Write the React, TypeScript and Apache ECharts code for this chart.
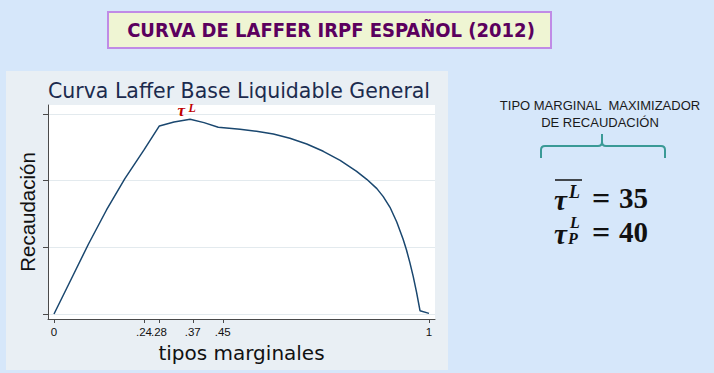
import React, { useEffect, useRef } from "react";
import * as echarts from "echarts";

// Marginal tax rate (x) and revenue index (y)
const rateX = [0, 0.05, 0.092, 0.14, 0.189, 0.24, 0.281, 0.32, 0.363, 0.4, 0.438, 0.496, 0.54, 0.585, 0.629, 0.674, 0.718, 0.763, 0.807, 0.834, 0.861, 0.878, 0.896, 0.914, 0.931, 0.94, 0.949, 0.958, 0.967, 0.976, 1.0];
const revenue = [0, 0.57, 1.05, 1.56, 2.03, 2.46, 2.82, 2.88, 2.92, 2.87, 2.8, 2.77, 2.74, 2.7, 2.635, 2.55, 2.44, 2.305, 2.14, 2.02, 1.88, 1.76, 1.6, 1.38, 1.12, 0.96, 0.77, 0.56, 0.32, 0.05, 0.01];

const xTicks = [0, 0.24, 0.28, 0.37, 0.45, 1];
const xTickLabels = ["0", ".24", ".28", ".37", ".45", "1"];
const yTicks = [0, 1, 2, 3];
const peakLabelAt = [0.35, 2.92];

const bracePath =
  "M541 158 L541 150 Q541 146 545 146 L598 146 Q602 146 602 142 L602 134 M602 142 Q602 146 606 146 L661 146 Q665 146 665 150 L665 158";

const txt = (x: number, y: number, text: string, font: string, align = "left", fill = "#111") => ({
  type: "text",
  x,
  y,
  style: { text, font, fill, textAlign: align, textVerticalAlign: "middle", align, verticalAlign: "middle" },
});

export default function App() {
  const ref = useRef<HTMLDivElement>(null);
  useEffect(() => {
    if (!ref.current) return;
    try {
      echarts.graphic.registerShape("brace", echarts.graphic.extendPath(bracePath, {}));
    } catch (e) {}
    const chart = echarts.init(ref.current, undefined, { renderer: "svg" });
    const axisColor = "#4a4a4a";
    const tauFont = 'italic bold 29px "Liberation Serif"';
    const numFont = 'bold 29px "Liberation Serif"';
    const red = "#c00000";
    chart.setOption({
      animation: false,
      backgroundColor: "#d6e7fa",
      title: {
        text: "Curva Laffer Base Liquidable General",
        left: 48,
        top: 80,
        padding: 0,
        textStyle: { fontFamily: "DejaVu Sans", fontSize: 20.5, fontWeight: "normal", color: "#1c2b4e" },
      },
      grid: { left: 48, right: 279, top: 105, bottom: 54, show: true, backgroundColor: "#ffffff", borderWidth: 0 },
      xAxis: {
        type: "value",
        min: -0.016,
        max: 1.016,
        axisLine: { onZero: false, lineStyle: { color: axisColor, width: 1 } },
        axisTick: { show: true, customValues: xTicks, length: 4, lineStyle: { color: axisColor } },
        axisLabel: {
          customValues: xTicks,
          margin: 7,
          fontFamily: "Liberation Sans",
          fontSize: 11.5,
          color: "#111",
          formatter: (v: number) => {
            let best = 0;
            xTicks.forEach((t, i) => {
              if (Math.abs(t - v) < Math.abs(xTicks[best] - v)) best = i;
            });
            return xTickLabels[best];
          },
        },
        splitLine: { show: false },
        name: "tipos marginales",
        nameLocation: "middle",
        nameGap: 14,
        nameTextStyle: { fontFamily: "DejaVu Sans", fontSize: 20, color: "#111" },
      },
      yAxis: {
        type: "value",
        min: -0.0746,
        max: 3.134,
        axisLine: { show: true, onZero: false, lineStyle: { color: axisColor, width: 1 } },
        axisTick: { show: true, customValues: yTicks, length: 5, lineStyle: { color: axisColor } },
        axisLabel: { show: false, customValues: yTicks },
        splitLine: { show: true, lineStyle: { color: "#e3eaee", width: 1 } },
        name: "Recaudación",
        nameLocation: "middle",
        nameGap: 10,
        nameTextStyle: { fontFamily: "Liberation Sans", fontSize: 20.5, color: "#111" },
      },
      series: [
        {
          type: "line",
          data: rateX.map((x, i) => [x, revenue[i]]),
          symbol: "none",
          lineStyle: { color: "#1a476f", width: 1.5 },
          markPoint: {
            symbol: "circle",
            symbolSize: 0,
            data: [
              {
                coord: peakLabelAt,
                label: {
                  show: true, position: "top", distance: 0, offset: [-4, 0], formatter: "τ",
                  fontFamily: "Liberation Serif", fontStyle: "italic", fontWeight: "bold", fontSize: 17, color: red,
                },
              },
              {
                coord: peakLabelAt,
                label: {
                  show: true, position: "top", distance: 0, offset: [7, -5], formatter: "L",
                  fontFamily: "Liberation Serif", fontStyle: "italic", fontWeight: "bold", fontSize: 12, color: red,
                },
              },
            ],
          },
        },
      ],
      graphic: [
        { type: "rect", z: -10, shape: { x: 6, y: 71, width: 442, height: 299 }, style: { fill: "#e9eff4" } },
        { type: "rect", shape: { x: 108, y: 12, width: 443, height: 36 }, style: { fill: "#eff5d3", stroke: "#c08be6", lineWidth: 2 } },
        txt(331, 30, "CURVA DE LAFFER IRPF ESPAÑOL (2012)", 'bold 20px "DejaVu Sans Condensed"', "center", "#5b005e"),
        txt(600, 105, "TIPO MARGINAL  MAXIMIZADOR", '13px "Liberation Sans"', "center", "#1a1a1a"),
        txt(600, 122, "DE RECAUDACIÓN", '13px "Liberation Sans"', "center", "#1a1a1a"),
        { type: "brace", x: 0, y: 0, style: { stroke: "#3a9a96", fill: null, lineWidth: 2 } },
        // line 1: overline tau^L = 35
        { type: "line", shape: { x1: 555, y1: 180, x2: 582, y2: 180 }, style: { stroke: "#111", lineWidth: 1.5 } },
        txt(554, 200, "τ", tauFont),
        txt(569, 192, "L", 'italic bold 18px "Liberation Serif"'),
        txt(592, 198, "=", 'bold 32px "Liberation Serif"'),
        txt(619, 198, "35", numFont),
        // line 2: tau_P^L = 40
        txt(554, 234, "τ", tauFont),
        txt(570, 222, "L", 'italic bold 16px "Liberation Serif"'),
        txt(568, 238, "P", 'italic bold 16px "Liberation Serif"'),
        txt(592, 232, "=", 'bold 32px "Liberation Serif"'),
        txt(619, 232, "40", numFont),
      ],
    });
    return () => chart.dispose();
  }, []);
  return <div ref={ref} style={{ position: "absolute", left: 0, top: 0, width: 714, height: 373 }} />;
}
